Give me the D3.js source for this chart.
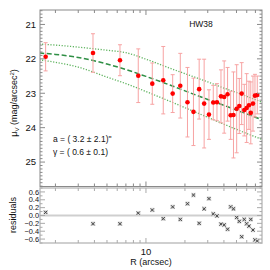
<!DOCTYPE html>
<html>
<head>
<meta charset="utf-8">
<script src="https://cdn.jsdelivr.net/npm/d3@7"></script>
<style>
  body { margin: 0; background: #fff; }
  text { font-family: "Liberation Sans", Arial, sans-serif; }
</style>
</head>
<body>
<script>
'use strict'

// surface brightness profile
const radius = [1.68, 3.90, 6.30, 8.72, 11.19, 13.60, 16.08, 18.41, 20.92, 23.27,
  25.75, 28.14, 30.65, 33.09, 35.34, 37.95, 40.17, 42.67, 45.09, 47.40,
  50.17, 52.55, 54.83, 57.42, 59.92, 62.42, 64.46, 67.03, 69.45, 72.36]
const mu = [21.94, 21.83, 22.04, 22.49, 22.72, 22.62, 23.01, 22.78, 23.26, 23.54,
  22.88, 23.30, 23.62, 23.27, 23.26, 23.09, 23.11, 23.03, 23.64, 23.63,
  23.45, 23.37, 23.01, 23.49, 23.43, 23.35, 23.57, 23.30, 23.07, 23.05]
const muErr = [0.41, 0.56, 0.45, 0.78, 0.60, 0.98, 0.55, 0.94, 1.01, 0.98,
  0.87, 1.29, 0.72, 0.50, 0.54, 0.77, 1.05, 0.78, 0.70, 1.25,
  1.28, 0.80, 0.90, 0.75, 1.00, 0.70, 0.90, 0.80, 0.62, 0.55]
const residual = [0.08, -0.21, -0.21, 0.06, 0.14, -0.08, 0.22, -0.10, 0.30, 0.52,
  -0.20, 0.17, 0.43, 0.04, -0.01, -0.22, -0.24, -0.35, 0.22, 0.17,
  -0.05, -0.15, -0.54, -0.10, -0.21, -0.27, -0.10, -0.37, -0.62, -0.65]

// fitted model and its band
const modelR = [1.5, 2, 3, 5, 7, 10, 15, 20, 30, 40, 50, 60, 80]
const modelMu = [21.83, 21.87, 21.96, 22.15, 22.31, 22.51, 22.75, 22.93, 23.18, 23.35, 23.49, 23.60, 23.78]
const upperMu = [21.57, 21.60, 21.66, 21.75, 21.82, 22.01, 22.26, 22.43, 22.67, 22.85, 22.98, 23.09, 23.27]
const lowerMu = [22.03, 22.10, 22.24, 22.53, 22.72, 22.95, 23.22, 23.42, 23.70, 23.90, 24.05, 24.17, 24.35]

const muTicks = [21, 22, 23, 24, 25]
const resTicks = [0.6, 0.4, 0.2, 0.0, -0.2, -0.4, -0.6]
const xTicks = [10]

const W = 270, H = 270
const left = 40, right = 262
const top1 = 10, bot1 = 186.5
const top2 = 188, bot2 = 243

const svg = d3.select('body').append('svg')
  .attr('width', W).attr('height', H)
svg.append('rect').attr('width', W).attr('height', H).attr('fill', '#fff')

const x = d3.scaleLog().domain([1.52, 78.7]).range([left, right])
const y = d3.scaleLinear().domain([20.58, 25.71]).range([top1, bot1])
const yr = d3.scaleLinear().domain([0.7, -0.7]).range([top2, bot2])

const frameTop = '#8a8a8a', frameRes = '#c4c4c4'

// minor tick positions on the log axis
const xMinor = d3.range(2, 10).concat(d3.range(20, 80, 10))

function frame(g, t, b, col, width) {
  g.append('rect')
    .attr('x', left).attr('y', t)
    .attr('width', right - left).attr('height', b - t)
    .attr('fill', 'none').attr('stroke', col).attr('stroke-width', width)
}

function xTickMarks(g, t, b, col) {
  const all = xMinor.map(v => [v, 3]).concat(xTicks.map(v => [v, 5]))
  all.forEach(([v, len]) => {
    g.append('line').attr('x1', x(v)).attr('x2', x(v))
      .attr('y1', b).attr('y2', b - len).attr('stroke', col)
    g.append('line').attr('x1', x(v)).attr('x2', x(v))
      .attr('y1', t).attr('y2', t + len).attr('stroke', col)
  })
}

function yTickMarks(g, scale, lo, hi, step, majors, col) {
  const n = Math.round((hi - lo) / step)
  for (let i = 0; i <= n; i++) {
    const v = lo + i * step
    const yy = scale(v)
    const major = majors.some(m => Math.abs(m - v) < 1e-6)
    const len = major ? 5 : 2.5
    g.append('line').attr('x1', left).attr('x2', left + len)
      .attr('y1', yy).attr('y2', yy).attr('stroke', col)
    g.append('line').attr('x1', right).attr('x2', right - len)
      .attr('y1', yy).attr('y2', yy).attr('stroke', col)
  }
}

// ---- top panel
const g1 = svg.append('g')
svg.append('clipPath').attr('id', 'clip1')
  .append('rect').attr('x', left).attr('y', top1)
  .attr('width', right - left).attr('height', bot1 - top1)

const curve = d3.line()
  .x(d => x(d[0]))
  .y(d => y(d[1]))
  .curve(d3.curveMonotoneX)

const curves = g1.append('g').attr('clip-path', 'url(#clip1)')
curves.append('path')
  .attr('d', curve(d3.zip(modelR, upperMu)))
  .attr('fill', 'none').attr('stroke', '#5fb35f')
  .attr('stroke-width', 1.3).attr('stroke-dasharray', '1.2,1.6')
curves.append('path')
  .attr('d', curve(d3.zip(modelR, lowerMu)))
  .attr('fill', 'none').attr('stroke', '#5fb35f')
  .attr('stroke-width', 1.3).attr('stroke-dasharray', '1.2,1.6')
curves.append('path')
  .attr('d', curve(d3.zip(modelR, modelMu)))
  .attr('fill', 'none').attr('stroke', '#2f8f45')
  .attr('stroke-width', 1.5).attr('stroke-dasharray', '5,2.5')

const pts = radius.map((r, i) => ({r: r, m: mu[i], e: muErr[i], res: residual[i]}))

const bars = g1.append('g').attr('stroke', '#f7a3a3').attr('stroke-width', 1)
bars.selectAll('line.v').data(pts).enter().append('line')
  .attr('x1', d => x(d.r)).attr('x2', d => x(d.r))
  .attr('y1', d => y(d.m - d.e)).attr('y2', d => y(d.m + d.e))
bars.selectAll('line.t').data(pts).enter().append('line')
  .attr('x1', d => x(d.r) - 2).attr('x2', d => x(d.r) + 2)
  .attr('y1', d => y(d.m - d.e)).attr('y2', d => y(d.m - d.e))
bars.selectAll('line.b').data(pts).enter().append('line')
  .attr('x1', d => x(d.r) - 2).attr('x2', d => x(d.r) + 2)
  .attr('y1', d => y(d.m + d.e)).attr('y2', d => y(d.m + d.e))

g1.selectAll('circle').data(pts).enter().append('circle')
  .attr('cx', d => x(d.r)).attr('cy', d => y(d.m))
  .attr('r', 2.3).attr('fill', '#ff0000')

frame(g1, top1, bot1, frameTop, 1)
xTickMarks(g1, top1, bot1, frameTop)
yTickMarks(g1, y, 20.6, 25.7, 0.1, muTicks, frameTop)

g1.selectAll('text.yl').data(muTicks).enter().append('text')
  .attr('x', 36).attr('y', d => y(d) + 3.3)
  .attr('text-anchor', 'end').attr('font-size', 9.5).attr('fill', '#111')
  .text(d => d)

g1.append('text').attr('x', 201).attr('y', 27)
  .attr('text-anchor', 'middle').attr('font-size', 8.5).attr('fill', '#111')
  .text('HW38')

g1.append('text').attr('x', 53).attr('y', 141.5)
  .attr('font-size', 8.5).attr('fill', '#111')
  .text('a = ( 3.2 \u00b1 2.1)"')
g1.append('text').attr('x', 53).attr('y', 155)
  .attr('font-size', 8.5).attr('fill', '#111')
  .text('\u03b3 = ( 0.6 \u00b1 0.1)')

const ylab = g1.append('text')
  .attr('transform', 'translate(17,' + 103 + ') rotate(-90)')
  .attr('text-anchor', 'middle').attr('font-size', 9).attr('fill', '#111')
ylab.append('tspan').text('\u03bc')
ylab.append('tspan').attr('font-size', 6).attr('dy', 2).text('V')
ylab.append('tspan').attr('dy', -2).text(' (mag/arcsec')
ylab.append('tspan').attr('font-size', 6).attr('dy', -3).text('2')
ylab.append('tspan').attr('dy', 3).text(')')

// ---- residual panel
const g2 = svg.append('g')
g2.append('line')
  .attr('x1', left).attr('x2', right)
  .attr('y1', yr(0)).attr('y2', yr(0))
  .attr('stroke', '#cfcfcf').attr('stroke-width', 1.8)

frame(g2, top2, bot2, frameRes, 1.6)
xTickMarks(g2, top2, bot2, '#aaa')
yTickMarks(g2, yr, -0.7, 0.7, 0.1, resTicks, '#aaa')

const cross = g2.append('g').attr('stroke', '#444').attr('stroke-width', 1)
pts.forEach(d => {
  const cx = x(d.r), cy = yr(d.res), s = 1.6
  cross.append('rect').attr('x', cx - 2.2).attr('y', cy - 2.2)
    .attr('width', 4.4).attr('height', 4.4)
    .attr('fill', '#d8d8d8').attr('stroke', 'none')
  cross.append('path')
    .attr('d', 'M' + (cx - s) + ',' + (cy - s) + 'L' + (cx + s) + ',' + (cy + s) +
      'M' + (cx - s) + ',' + (cy + s) + 'L' + (cx + s) + ',' + (cy - s))
})

// crowded labels, as in the reference: small enough to sit one above another
g2.selectAll('text.rl').data(resTicks).enter().append('text')
  .attr('x', 39).attr('y', d => yr(d) + 2.6)
  .attr('text-anchor', 'end').attr('font-size', 7.4).attr('fill', '#111')
  .text(d => (d < 0 ? '\u2212' : '') + Math.abs(d).toFixed(1))

g2.append('text')
  .attr('transform', 'translate(16,' + 215 + ') rotate(-90)')
  .attr('text-anchor', 'middle').attr('font-size', 9).attr('fill', '#111')
  .text('residuals')

svg.selectAll('text.xl').data(xTicks).enter().append('text')
  .attr('x', d => x(d)).attr('y', 255)
  .attr('text-anchor', 'middle').attr('font-size', 9.5).attr('fill', '#111')
  .text(d => d)

svg.append('text').attr('x', 151).attr('y', 265)
  .attr('text-anchor', 'middle').attr('font-size', 9).attr('fill', '#111')
  .text('R (arcsec)')
</script>
</body>
</html>
